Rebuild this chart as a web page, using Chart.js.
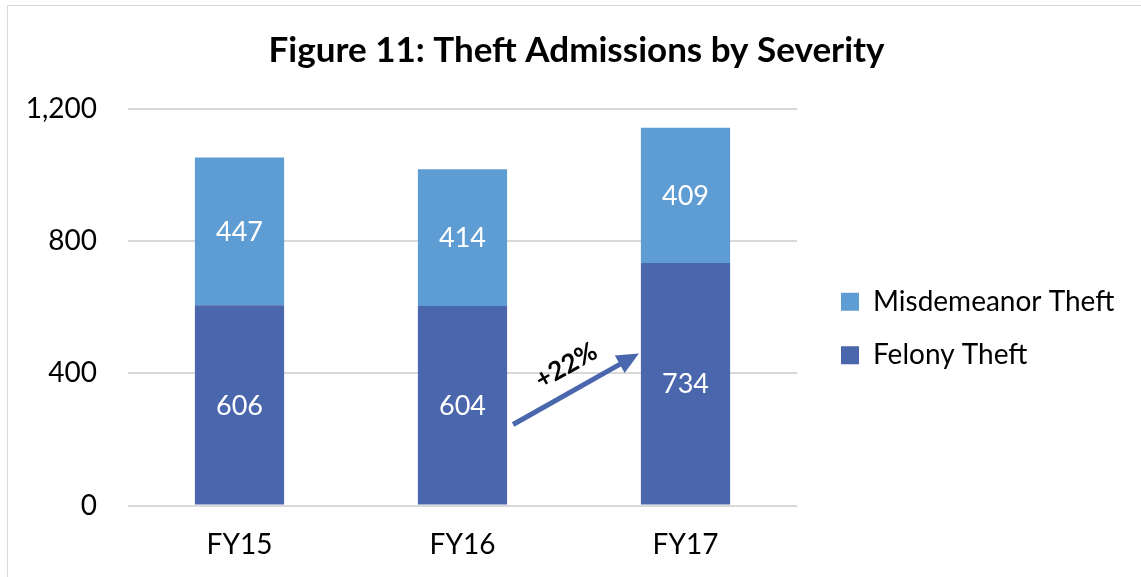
<!DOCTYPE html>
<html>
<head>
<meta charset="utf-8">
<title>Figure 11: Theft Admissions by Severity</title>
<script src="https://cdn.jsdelivr.net/npm/chart.js@4.4.1/dist/chart.umd.min.js"></script>
<style>
    html, body { margin: 0; padding: 0; background: #fff; overflow: hidden; }
    #wrap { position: relative; width: 1141px; height: 577px; }
    #frame { position: absolute; left: 7px; top: 5px; width: 1200px; height: 700px; border: 1px solid #D9D9D9; pointer-events: none; }
    canvas { position: absolute; left: 0; top: 0; }
</style>
</head>
<body>
<div id="wrap">
    <canvas id="theftChart" width="1141" height="577"></canvas>
    <div id="frame"></div>
</div>
<script>
// Data
const years = ['FY15', 'FY16', 'FY17'];
const felonyTheft = [606, 604, 734];
const misdemeanorTheft = [447, 414, 409];
const yTicks = [0, 400, 800, 1200];

// Arrow annotation between FY16 and FY17 felony bars
const arrowLabel = '+22%';
const arrowFromValue = 245;
const arrowToValue = 460;

const FONT = 'Lato, "Open Sans", sans-serif';
const COLOR_FELONY = '#4A66AC';
const COLOR_MISD = '#5E9DD4';

const CANVAS_W = 1141;
const PLOT_RIGHT = 797;      // right edge of the plot area
const LEGEND_GAP = 44;       // plot edge -> legend swatch
const LEGEND_DROP = 40;

// White value labels centred in each bar segment
const segmentLabels = {
    id: 'segmentLabels',
    afterDatasetsDraw(chart) {
        const ctx = chart.ctx;
        ctx.save();
        ctx.fillStyle = '#ffffff';
        ctx.font = '27px ' + FONT;
        ctx.textAlign = 'center';
        ctx.textBaseline = 'middle';
        chart.data.datasets.forEach((ds, di) => {
            const meta = chart.getDatasetMeta(di);
            meta.data.forEach((bar, i) => {
                const y = (bar.y + bar.base) / 2;
                ctx.fillText(String(ds.data[i]), bar.x, y + 1);
            });
        });
        ctx.restore();
    }
};

// "+22%" growth arrow
const growthArrow = {
    id: 'growthArrow',
    afterDatasetsDraw(chart) {
        const ctx = chart.ctx;
        const yScale = chart.scales.y;
        const bars = chart.getDatasetMeta(0).data;
        const b16 = bars[1], b17 = bars[2];
        const x1 = b16.x + b16.width / 2 + 6;
        const y1 = yScale.getPixelForValue(arrowFromValue);
        const x2 = b17.x - b17.width / 2 - 2;
        const y2 = yScale.getPixelForValue(arrowToValue);
        const ang = Math.atan2(y2 - y1, x2 - x1);
        const headLen = 22, headHalf = 10;

        ctx.save();
        ctx.strokeStyle = COLOR_FELONY;
        ctx.fillStyle = COLOR_FELONY;
        ctx.lineWidth = 5;
        ctx.beginPath();
        ctx.moveTo(x1, y1);
        ctx.lineTo(x2 - Math.cos(ang) * (headLen - 2), y2 - Math.sin(ang) * (headLen - 2));
        ctx.stroke();

        ctx.translate(x2, y2);
        ctx.rotate(ang);
        ctx.beginPath();
        ctx.moveTo(0, 0);
        ctx.lineTo(-headLen, -headHalf);
        ctx.lineTo(-headLen, headHalf);
        ctx.closePath();
        ctx.fill();
        ctx.restore();

        // label above the arrow, rotated along it
        const t = 0.52;
        const mx = x1 + (x2 - x1) * t;
        const my = y1 + (y2 - y1) * t;
        ctx.save();
        ctx.translate(mx, my);
        ctx.rotate(ang);
        ctx.fillStyle = '#000';
        ctx.font = 'bold 26px ' + FONT;
        ctx.textAlign = 'center';
        ctx.textBaseline = 'middle';
        ctx.fillText(arrowLabel, 0, -25);
        ctx.restore();
    }
};

// Put the legend swatches a fixed gap right of the plot area
const legendOffset = {
    id: 'legendOffset',
    afterLayout(chart) {
        const lg = chart.legend;
        if (!lg) return;
        const pad = lg.options.labels.padding;
        const dx = chart.chartArea.right + LEGEND_GAP - pad - lg.left;
        lg.left += dx; lg.right += dx;
        lg.top += LEGEND_DROP; lg.bottom += LEGEND_DROP;
    }
};

const chart = new Chart(document.getElementById('theftChart'), {
    type: 'bar',
    data: {
        labels: years,
        datasets: [
            {
                label: 'Felony Theft',
                data: felonyTheft,
                backgroundColor: COLOR_FELONY,
                borderWidth: 0,
                barPercentage: 0.8,
                categoryPercentage: 0.5
            },
            {
                label: 'Misdemeanor Theft',
                data: misdemeanorTheft,
                backgroundColor: COLOR_MISD,
                borderWidth: 0,
                barPercentage: 0.8,
                categoryPercentage: 0.5
            }
        ]
    },
    options: {
        responsive: false,
        animation: false,
        layout: { padding: { left: 12, right: 0, top: 0, bottom: 0 } },
        plugins: {
            title: {
                display: true,
                text: 'Figure 11: Theft Admissions by Severity',
                color: '#000',
                font: { family: FONT, size: 35, weight: 'bold', lineHeight: 1.2 },
                padding: { top: 30, bottom: 37 }
            },
            legend: {
                position: 'right',
                reverse: true,
                labels: {
                    color: '#000',
                    font: { family: FONT, size: 28 },
                    boxWidth: 18,
                    boxHeight: 18,
                    padding: 25.5
                }
            },
            tooltip: { enabled: false }
        },
        scales: {
            x: {
                stacked: true,
                grid: { display: false, drawTicks: false },
                border: { display: false },
                ticks: { color: '#000', font: { family: FONT, size: 28 }, padding: 23 },
                afterFit(scale) { scale.height = 71.5; }
            },
            y: {
                stacked: true,
                min: 0,
                max: 1200,
                afterBuildTicks(scale) { scale.ticks = yTicks.map(v => ({ value: v })); },
                grid: { color: '#D9D9D9', lineWidth: 2, drawTicks: false },
                border: { display: false },
                ticks: {
                    color: '#000',
                    font: { family: FONT, size: 28 },
                    padding: 31,
                    callback: v => v.toLocaleString('en-US')
                },
                afterFit(scale) { scale.width = 116; }
            }
        }
    },
    plugins: [segmentLabels, growthArrow, legendOffset]
});

// the legend column takes everything right of the plot area
const baseFit = chart.legend.fit;
chart.legend.fit = function () {
    baseFit.call(this);
    this.width = CANVAS_W - PLOT_RIGHT;
};
chart.update();
</script>
</body>
</html>
